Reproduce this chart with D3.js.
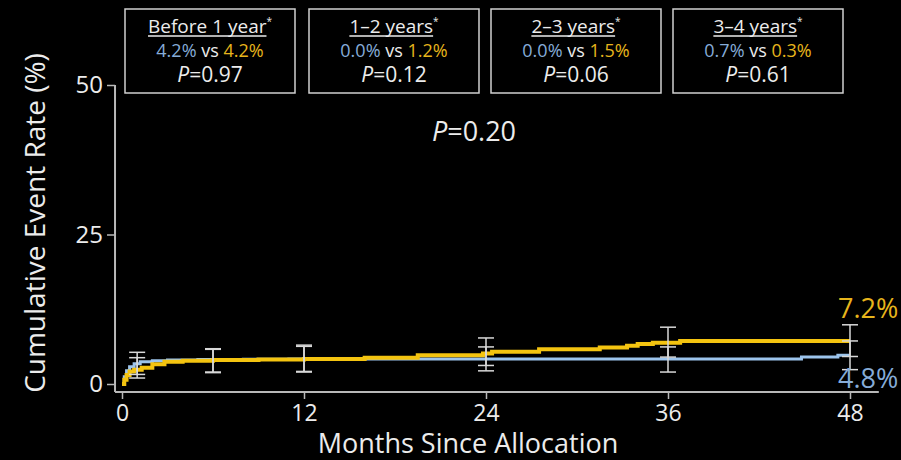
<!DOCTYPE html>
<html>
<head>
<meta charset="utf-8">
<script src="https://cdn.jsdelivr.net/npm/d3@7/dist/d3.min.js"></script>
<style>
  html, body { margin: 0; padding: 0; background: #000; }
  svg { display: block; }
  text { font-family: "Open Sans", "DejaVu Sans", sans-serif; }
</style>
</head>
<body>
<svg id="chart" width="901" height="460"></svg>
<script>
// Kaplan–Meier style cumulative event curves (step points: month, %)
const blueMonths = [0, 0.15, 0.3, 0.5, 0.8, 1.2, 2.0, 3.0, 5.0, 8.0, 11.0, 44.8, 47.2, 48];
const blueRates  = [0, 1.2, 2.2, 2.9, 3.4, 3.7, 3.9, 4.0, 4.1, 4.15, 4.2, 4.5, 4.8, 4.8];
const yellowMonths = [0, 0.15, 0.3, 0.5, 0.8, 1.3, 2.0, 2.8, 4.0, 6.0, 9.0, 12.0, 16.0, 19.5, 23.8, 24.4, 27.5, 31.5, 33.3, 34.0, 35.0, 36.8, 48];
const yellowRates  = [0, 0.7, 1.5, 2.1, 2.4, 2.7, 3.3, 3.7, 3.9, 4.0, 4.1, 4.2, 4.4, 4.8, 5.1, 5.4, 5.8, 6.1, 6.4, 6.7, 6.9, 7.2, 7.2];

// 95% CI bars at selected follow-up times
const errMonths  = [1, 6, 12, 24, 36, 48];
const blueLow    = [1.6, 2.0, 2.1, 2.2, 2.0, 2.4];
const blueHigh   = [5.3, 5.8, 6.3, 6.2, 6.2, 7.2];
const yellowLow  = [1.0, 1.9, 2.0, 3.1, 4.5, 4.6];
const yellowHigh = [4.4, 5.9, 6.5, 7.7, 9.5, 9.9];

// Axis ticks
const xTicks = [0, 12, 24, 36, 48];
const yTicks = [0, 25, 50];

// Landmark interval summaries
const periodLabels = ["Before 1 year", "1\u20132 years", "2\u20133 years", "3\u20134 years"];
const periodBlue   = ["4.2%", "0.0%", "0.0%", "0.7%"];
const periodYellow = ["4.2%", "1.2%", "1.5%", "0.3%"];
const periodP      = ["0.97", "0.12", "0.06", "0.61"];
const overallP = "0.20";
const endBlue = 4.8, endYellow = 7.2;

const BLUE = "#9cc4ec", YELLOW = "#f4c410";
const BLUE_TXT = "#86acd8", YELLOW_TXT = "#e7b51c";
const AXIS = "#b8b8b8", TXT = "#ececec", ERR = "#d8d8d8";

const svg = d3.select("#chart");
const x = d3.scaleLinear().domain([0, 48]).range([122, 850]);
const y = d3.scaleLinear().domain([0, 50]).range([384, 85]);

// Axes
const axisY = 392;
svg.append("line")
  .attr("x1", x(-0.46)).attr("x2", x(49.9))
  .attr("y1", axisY).attr("y2", axisY)
  .attr("stroke", AXIS).attr("stroke-width", 2);
svg.append("line")
  .attr("x1", x(-0.46)).attr("x2", x(-0.46))
  .attr("y1", y(50)).attr("y2", axisY)
  .attr("stroke", AXIS).attr("stroke-width", 2);

const gx = svg.append("g").attr("transform", `translate(0,${axisY})`)
  .call(d3.axisBottom(x).tickValues(xTicks).tickSize(7).tickPadding(6).tickFormat(d3.format("d")));
gx.select(".domain").remove();
gx.selectAll("line").attr("stroke", AXIS).attr("stroke-width", 1.5);
gx.selectAll("text").attr("fill", TXT).attr("font-size", 23)
  .style("font-family", '"Open Sans", sans-serif');

const gy = svg.append("g").attr("transform", `translate(${x(-0.46)},0)`)
  .call(d3.axisLeft(y).tickValues(yTicks).tickSize(8).tickPadding(4));
gy.select(".domain").remove();
gy.selectAll("line").attr("stroke", AXIS).attr("stroke-width", 1.5);
gy.selectAll("text").attr("fill", TXT).attr("font-size", 24)
  .style("font-family", '"Open Sans", sans-serif');

svg.append("text")
  .attr("x", 468).attr("y", 453)
  .attr("text-anchor", "middle").attr("fill", TXT).attr("font-size", 27)
  .text("Months Since Allocation");

svg.append("text")
  .attr("transform", "translate(45,223) rotate(-90)")
  .attr("text-anchor", "middle").attr("fill", TXT).attr("font-size", 28)
  .text("Cumulative Event Rate (%)");

// Curves
const line = d3.line().curve(d3.curveStepAfter).x(d => x(d[0])).y(d => y(d[1]));
const blueData = blueMonths.map((m, i) => [m, blueRates[i]]);
const yellowData = yellowMonths.map((m, i) => [m, yellowRates[i]]);

svg.append("path").datum(blueData).attr("d", line)
  .attr("fill", "none").attr("stroke", BLUE).attr("stroke-width", 3);
svg.append("path").datum(yellowData).attr("d", line)
  .attr("fill", "none").attr("stroke", YELLOW).attr("stroke-width", 4);

// Error bars
function errorBars(lows, highs) {
  const g = svg.append("g").attr("stroke", ERR).attr("stroke-width", 1.5);
  errMonths.forEach((m, i) => {
    const cx = x(m);
    g.append("line").attr("x1", cx).attr("x2", cx).attr("y1", y(lows[i])).attr("y2", y(highs[i]));
    [lows[i], highs[i]].forEach(v => {
      g.append("line").attr("x1", cx - 8).attr("x2", cx + 8).attr("y1", y(v)).attr("y2", y(v));
    });
  });
}
errorBars(blueLow, blueHigh);
errorBars(yellowLow, yellowHigh);

// End-of-follow-up labels
svg.append("text").attr("x", 838).attr("y", y(endYellow) - 23)
  .attr("fill", YELLOW_TXT).attr("font-size", 27).text(d3.format(".1f")(endYellow) + "%");
svg.append("text").attr("x", 838).attr("y", y(endBlue) + 33)
  .attr("fill", BLUE_TXT).attr("font-size", 27).text(d3.format(".1f")(endBlue) + "%");

// Overall P value
const pt = svg.append("text").attr("x", 474).attr("y", 141)
  .attr("text-anchor", "middle").attr("fill", TXT).attr("font-size", 27);
pt.append("tspan").attr("font-style", "italic").text("P");
pt.append("tspan").text("=" + overallP);

// Interval boxes
const boxLeft = [125, 309, 491, 673];
const boxW = 170, boxTop = 9, boxH = 84;
periodLabels.forEach((lab, i) => {
  const g = svg.append("g").attr("transform", `translate(${boxLeft[i]},${boxTop})`);
  g.append("rect").attr("width", boxW).attr("height", boxH)
    .attr("fill", "none").attr("stroke", "#d0d0d0").attr("stroke-width", 1.5);
  const cx = boxW / 2;
  const t = g.append("text").attr("x", cx).attr("y", 24)
    .attr("text-anchor", "middle").attr("fill", TXT).attr("font-size", 19);
  const main = t.append("tspan").text(lab);
  t.append("tspan").attr("font-size", 10).attr("dy", -8).text("*");
  const w = main.node().getComputedTextLength();
  const full = t.node().getComputedTextLength();
  const start = cx - full / 2;
  g.append("line").attr("x1", start).attr("x2", start + w)
    .attr("y1", 27).attr("y2", 27).attr("stroke", TXT).attr("stroke-width", 1.3);

  const t2 = g.append("text").attr("x", cx).attr("y", 48)
    .attr("text-anchor", "middle").attr("font-size", 18);
  t2.append("tspan").attr("fill", BLUE_TXT).text(periodBlue[i]);
  t2.append("tspan").attr("fill", TXT).text(" vs ");
  t2.append("tspan").attr("fill", YELLOW_TXT).text(periodYellow[i]);

  const t3 = g.append("text").attr("x", cx).attr("y", 73)
    .attr("text-anchor", "middle").attr("fill", TXT).attr("font-size", 21);
  t3.append("tspan").attr("font-style", "italic").text("P");
  t3.append("tspan").text("=" + periodP[i]);
});
</script>
</body>
</html>
